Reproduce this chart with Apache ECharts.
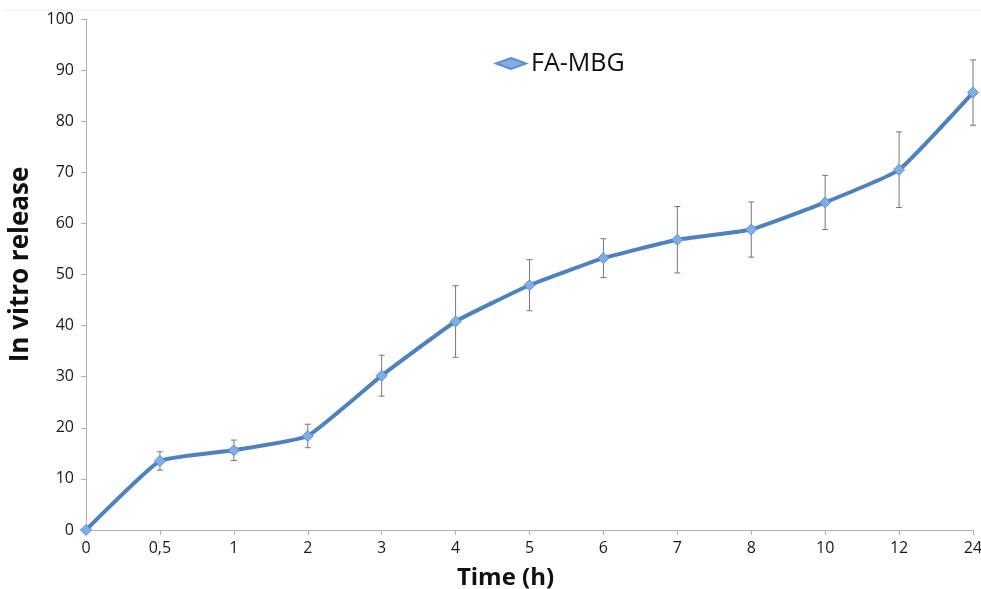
<!DOCTYPE html>
<html>
<head>
<meta charset="utf-8">
<script src="https://cdn.jsdelivr.net/npm/echarts@6/dist/echarts.min.js"></script>
<style>
  html, body { margin: 0; padding: 0; background: #fff; }
  #chart { width: 981px; height: 589px; }
</style>
</head>
<body>
<div id="chart"></div>
<script>
const times = ['0', '0,5', '1', '2', '3', '4', '5', '6', '7', '8', '10', '12', '24'];
const release = [0, 13.5, 15.6, 18.4, 30.2, 40.8, 47.9, 53.2, 56.8, 58.8, 64.1, 70.5, 85.6];
const errors = [0, 1.8, 2.0, 2.3, 4.0, 7.0, 5.0, 3.8, 6.5, 5.4, 5.3, 7.4, 6.4];
const yTicks = { min: 0, max: 100, interval: 10 };

const lineColor = '#4f81bd';
const font = '"Open Sans", "Liberation Sans", sans-serif';

let chartDom = document.getElementById('chart');
let myChart = echarts.init(chartDom);

let errorData = release.map((v, i) => [i, v - errors[i], v + errors[i]]);
// between-category ticks sit on a second axis
let midTicks = times.slice(1).map(() => '');

let option = {
    animation: false,
    grid: { left: 86, right: 8, top: 19, bottom: 59, outerBoundsMode: 'none' },
    legend: {
        left: 490,
        top: 46,
        itemWidth: 30,
        itemHeight: 11,
        itemGap: 2,
        data: [{ name: 'FA-MBG', icon: 'diamond' }],
        textStyle: { fontFamily: font, fontSize: 25, color: '#111' }
    },
    xAxis: [
        {
            type: 'category',
            data: times,
            boundaryGap: false,
            name: 'Time (h)',
            nameLocation: 'middle',
            nameGap: 36,
            nameTextStyle: { fontFamily: font, fontSize: 24, fontWeight: 'bold', color: '#111', padding: [0, 48, 0, 0] },
            axisLine: { lineStyle: { color: '#b0b0b0', width: 1 } },
            axisTick: { length: 5, lineStyle: { color: '#b0b0b0' } },
            axisLabel: { fontFamily: font, fontSize: 16, color: '#1a1a1a', margin: 10 }
        },
        {
            type: 'category',
            data: midTicks,
            position: 'bottom',
            boundaryGap: true,
            axisLine: { show: false },
            axisTick: { alignWithLabel: true, inside: true, length: 4, lineStyle: { color: '#b0b0b0' } },
            axisLabel: { show: false }
        }
    ],
    yAxis: {
        type: 'value',
        min: yTicks.min,
        max: yTicks.max,
        interval: yTicks.interval,
        name: 'In vitro release',
        nameLocation: 'middle',
        nameGap: 52,
        nameTextStyle: { fontFamily: font, fontSize: 26, fontWeight: 'bold', color: '#111', padding: [0, 0, 0, 20] },
        splitLine: { show: false },
        axisLine: { show: true, lineStyle: { color: '#b0b0b0', width: 1 } },
        axisTick: { show: true, length: 5, lineStyle: { color: '#b0b0b0' } },
        axisLabel: { fontFamily: font, fontSize: 16, color: '#1a1a1a', margin: 12 }
    },
    series: [
        {
            name: 'FA-MBG',
            type: 'line',
            data: release,
            smooth: 0.12,
            symbol: 'diamond',
            symbolSize: 11,
            lineStyle: { color: lineColor, width: 4 },
            itemStyle: { color: '#7eaee6', borderColor: '#5b8fd0', borderWidth: 1 },
            z: 3
        },
        {
            name: 'error',
            type: 'custom',
            data: errorData,
            z: 2,
            renderItem: function (params, api) {
                let x = api.value(0);
                let lo = api.coord([x, api.value(1)]);
                let hi = api.coord([x, api.value(2)]);
                if (api.value(2) - api.value(1) <= 0) return null;
                let cap = 3;
                let style = { stroke: '#777', lineWidth: 1 };
                return {
                    type: 'group',
                    children: [
                        { type: 'line', shape: { x1: hi[0], y1: hi[1], x2: lo[0], y2: lo[1] }, style },
                        { type: 'line', shape: { x1: hi[0] - cap, y1: hi[1], x2: hi[0] + cap, y2: hi[1] }, style },
                        { type: 'line', shape: { x1: lo[0] - cap, y1: lo[1], x2: lo[0] + cap, y2: lo[1] }, style }
                    ]
                };
            }
        }
    ],
    graphic: [
        {
            type: 'line',
            shape: { x1: 5, y1: 10, x2: 981, y2: 10 },
            style: { stroke: '#f0f0f0', lineWidth: 1 }
        }
    ]
};

option && myChart.setOption(option);
</script>
</body>
</html>
